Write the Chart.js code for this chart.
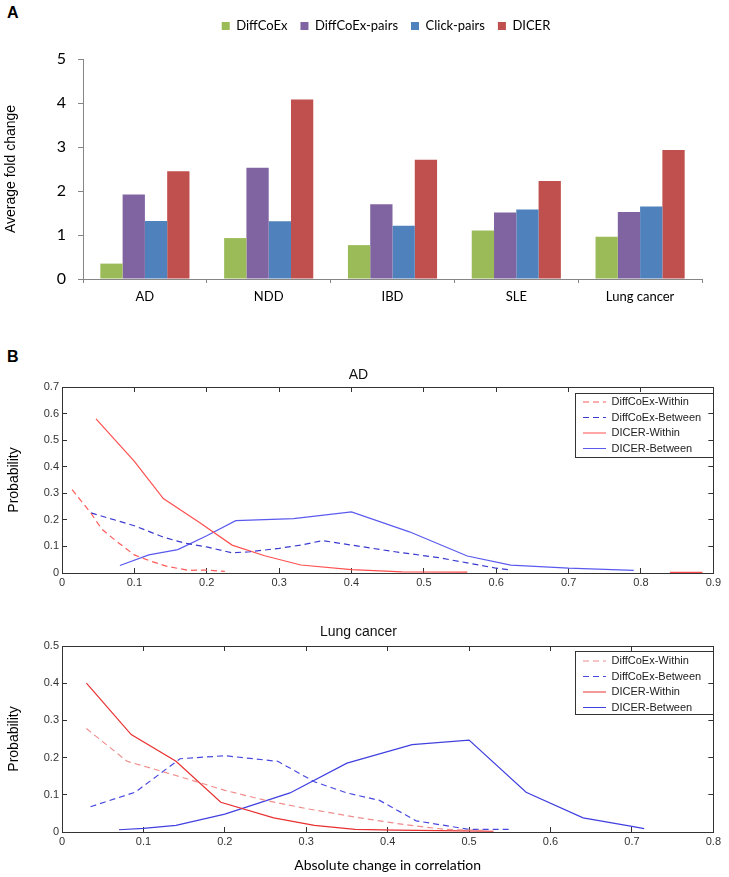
<!DOCTYPE html>
<html>
<head>
<meta charset="utf-8">
<script src="https://cdn.jsdelivr.net/npm/chart.js@4.4.1/dist/chart.umd.min.js"></script>
<style>
  html, body { margin: 0; padding: 0; background: #fff; }
  body { width: 729px; height: 877px; overflow: hidden; position: relative; }
  .panel { position: absolute; left: 0; }
  .lbl { position: absolute; font: bold 16px 'Liberation Sans', Arial, sans-serif; line-height: 1; color: #000; }
</style>
</head>
<body>
<div class="lbl" style="left:7px; top:5px;">A</div>
<div class="lbl" style="left:7px; top:349px;">B</div>
<div class="panel" style="top:0px;"><canvas id="cA" width="729" height="310"></canvas></div>
<div class="panel" style="top:340px;"><canvas id="cB1" width="729" height="260"></canvas></div>
<div class="panel" style="top:600px;"><canvas id="cB2" width="729" height="277"></canvas></div>
<script>
// ---------- Panel A data ----------
const categories = ['AD', 'NDD', 'IBD', 'SLE', 'Lung cancer'];
const barSeriesNames = ['DiffCoEx', 'DiffCoEx-pairs', 'Click-pairs', 'DICER'];
const diffcoexValues = [0.35, 0.93, 0.77, 1.10, 0.96];
const diffcoexPairsValues = [1.92, 2.53, 1.70, 1.51, 1.52];
const clickPairsValues = [1.32, 1.31, 1.21, 1.58, 1.65];
const dicerValues = [2.45, 4.08, 2.71, 2.23, 2.93];
const barColors = ['#9BBB59', '#8064A2', '#4F81BD', '#C0504D'];
const yTicksA = [0, 1, 2, 3, 4, 5];

// ---------- Panel B data (AD) ----------
const lineSeriesNames = ['DiffCoEx-Within', 'DiffCoEx-Between', 'DICER-Within', 'DICER-Between'];
const adDiffWithinX = [0.014, 0.04, 0.055, 0.075, 0.1, 0.12, 0.145, 0.175, 0.2, 0.225];
const adDiffWithinY = [0.314, 0.225, 0.165, 0.12, 0.068, 0.047, 0.025, 0.01, 0.011, 0.006];
const adDiffBetweenX = [0.04, 0.1, 0.14, 0.17, 0.2, 0.235, 0.26, 0.3, 0.33, 0.36, 0.4, 0.46, 0.52, 0.56, 0.6, 0.62];
const adDiffBetweenY = [0.226, 0.178, 0.135, 0.112, 0.098, 0.076, 0.08, 0.093, 0.105, 0.122, 0.105, 0.08, 0.058, 0.038, 0.018, 0.011];
const adDicerWithinX = [0.047, 0.1, 0.14, 0.19, 0.235, 0.28, 0.33, 0.4, 0.47, 0.56, 0.6, 0.84, 0.885];
const adDicerWithinY = [0.58, 0.42, 0.28, 0.19, 0.105, 0.065, 0.03, 0.013, 0.004, 0.003, null, 0.002, 0.002];
const adDicerBetweenX = [0.08, 0.12, 0.16, 0.2, 0.24, 0.32, 0.4, 0.48, 0.56, 0.62, 0.7, 0.79];
const adDicerBetweenY = [0.028, 0.068, 0.088, 0.14, 0.197, 0.205, 0.23, 0.155, 0.064, 0.03, 0.018, 0.01];

// ---------- Panel B data (Lung cancer) ----------
const lcDiffWithinX = [0.03, 0.08, 0.14, 0.2, 0.25, 0.3, 0.36, 0.42, 0.47, 0.52];
const lcDiffWithinY = [0.278, 0.19, 0.152, 0.112, 0.085, 0.063, 0.04, 0.02, 0.007, 0.004];
const lcDiffBetweenX = [0.035, 0.09, 0.145, 0.2, 0.265, 0.31, 0.35, 0.39, 0.435, 0.5, 0.55];
const lcDiffBetweenY = [0.068, 0.107, 0.197, 0.205, 0.19, 0.135, 0.105, 0.085, 0.03, 0.007, 0.007];
const lcDicerWithinX = [0.03, 0.085, 0.14, 0.195, 0.26, 0.31, 0.36, 0.41, 0.49, 0.53];
const lcDicerWithinY = [0.40, 0.262, 0.19, 0.08, 0.038, 0.018, 0.007, 0.005, 0.003, 0.002];
const lcDicerBetweenX = [0.07, 0.1, 0.14, 0.2, 0.28, 0.35, 0.43, 0.5, 0.57, 0.64, 0.7, 0.715];
const lcDicerBetweenY = [0.006, 0.01, 0.018, 0.048, 0.105, 0.185, 0.235, 0.247, 0.107, 0.038, 0.015, 0.009];

function pts(xs, ys) { return xs.map((x, i) => ({ x: x, y: ys[i] })); }

// Plugin: reposition legend and draw a framed box behind it
const legendPlacer = {
  id: 'legendPlacer',
  afterLayout(chart, args, o) {
    const lg = chart.legend;
    if (!lg || !o) return;
    const w = lg.width, h = lg.height;
    if (typeof o.dx === 'number') { lg.left += o.dx; lg.right += o.dx; }
    if (typeof o.left === 'number') { lg.left = o.left; lg.right = o.left + w; }
    if (typeof o.top === 'number') { lg.top = o.top; lg.bottom = o.top + h; }
  },
  beforeDraw(chart, args, o) {
    if (!o || !o.box) return;
    const ctx = chart.ctx, b = o.box;
    ctx.save();
    ctx.fillStyle = '#fff';
    ctx.fillRect(b.x, b.y, b.w, b.h);
    ctx.strokeStyle = '#333';
    ctx.lineWidth = 1;
    ctx.strokeRect(b.x + 0.5, b.y + 0.5, b.w, b.h);
    ctx.restore();
  }
};

// ---------- Chart A ----------
const barData = [diffcoexValues, diffcoexPairsValues, clickPairsValues, dicerValues];
new Chart(document.getElementById('cA'), {
  type: 'bar',
  data: {
    labels: categories,
    datasets: barSeriesNames.map((n, i) => ({
      label: n, data: barData[i], backgroundColor: barColors[i], borderWidth: 0,
      categoryPercentage: 0.72, barPercentage: 1.0
    }))
  },
  plugins: [legendPlacer],
  options: {
    responsive: false, animation: false, devicePixelRatio: 1,
    layout: { padding: { top: 23, left: 0, right: 27, bottom: 0 } },
    plugins: {
      tooltip: { enabled: false },
      legend: {
        position: 'top',
        labels: { boxWidth: 8, boxHeight: 8, padding: 13, color: '#000',
          font: { family: 'Lato', size: 13 } }
      },
      legendPlacer: { dx: 35, top: 6.5 }
    },
    scales: {
      x: {
        grid: { offset: true, drawOnChartArea: false, tickLength: 4, color: '#868686' },
        border: { color: '#868686' },
        ticks: { color: '#000', padding: 6, font: { family: 'Lato', size: 13 } },
        afterFit: s => { s.height = 31; }
      },
      y: {
        min: 0, max: 5,
        afterBuildTicks: s => { s.ticks = yTicksA.map(v => ({ value: v })); },
        ticks: { color: '#000', padding: 12, font: { family: 'Lato', size: 16 } },
        grid: { drawOnChartArea: false, tickLength: 5, color: '#868686' },
        border: { color: '#868686' },
        title: { display: true, text: 'Average fold change', color: '#000',
          font: { family: 'Liberation Sans', size: 14 }, padding: { top: 2.6, bottom: 0 } },
        afterFit: s => { s.width = 83; }
      }
    }
  }
});

// ---------- Chart B helper ----------
function lineChart(canvasId, title, xMax, yMax, series, colors, dashed, opts) {
  const datasets = series.map((d, i) => ({
    label: lineSeriesNames[i], data: d,
    borderColor: colors[i], backgroundColor: colors[i],
    borderWidth: 1.2, borderDash: dashed[i] ? [6, 4] : [],
    pointRadius: 0, tension: 0, fill: false, spanGaps: false
  }));
  const axisColor = '#333';
  const tickFont = { family: 'Liberation Sans', size: 11 };
  const gridCommon = { drawOnChartArea: false, tickLength: -5, color: axisColor };
  return new Chart(document.getElementById(canvasId), {
    type: 'line',
    data: { datasets: datasets },
    plugins: [legendPlacer],
    options: {
      responsive: false, animation: false, devicePixelRatio: 1,
      layout: { padding: { top: 0, left: 0, right: 12, bottom: 0 } },
      plugins: {
        tooltip: { enabled: false },
        title: { display: true, text: title, color: '#111',
          font: { family: 'Liberation Sans', size: 14, weight: 'normal' },
          padding: { top: opts.titleTop, bottom: opts.titleBottom } },
        legend: {
          position: 'chartArea', align: 'start',
          labels: {
            usePointStyle: true, pointStyle: 'line', pointStyleWidth: 23,
            boxHeight: 11, padding: 4.5, color: '#222',
            font: { family: 'Liberation Sans', size: 11 },
            generateLabels: ch => ch.data.datasets.map((ds, i) => ({
              text: ds.label, datasetIndex: i, hidden: false,
              strokeStyle: ds.borderColor, fillStyle: ds.borderColor,
              lineWidth: ds.borderWidth, lineDash: ds.borderDash,
              pointStyle: 'line', fontColor: '#222'
            }))
          }
        },
        legendPlacer: { left: opts.legendLeft, top: opts.legendTop, box: opts.box }
      },
      scales: {
        x: {
          type: 'linear', position: 'bottom', min: 0, max: xMax,
          ticks: { stepSize: 0.1, color: '#333', padding: 8, font: tickFont },
          grid: gridCommon, border: { color: axisColor },
          title: opts.xTitle ? { display: true, text: opts.xTitle, color: '#000',
            font: { family: 'Lato', size: 14 }, padding: { top: 0, bottom: opts.xTitlePad } } : { display: false },
          afterFit: s => { s.height = opts.xHeight; }
        },
        x2: {
          type: 'linear', position: 'top', min: 0, max: xMax,
          ticks: { stepSize: 0.1, display: false },
          grid: gridCommon, border: { color: axisColor },
          afterFit: s => { s.height = 0; }
        },
        y: {
          type: 'linear', position: 'left', min: 0, max: yMax,
          ticks: { stepSize: 0.1, color: '#333', padding: 8, font: tickFont },
          grid: gridCommon, border: { color: axisColor },
          title: { display: true, text: 'Probability', color: '#000',
            font: { family: 'Liberation Sans', size: 14 }, padding: { top: 5.6, bottom: 0 } },
          afterFit: s => { s.width = 62; }
        },
        y2: {
          type: 'linear', position: 'right', min: 0, max: yMax,
          ticks: { stepSize: 0.1, display: false },
          grid: gridCommon, border: { color: axisColor },
          afterFit: s => { s.width = 0; }
        }
      }
    }
  });
}

lineChart('cB1', 'AD', 0.9, 0.7,
  [pts(adDiffWithinX, adDiffWithinY), pts(adDiffBetweenX, adDiffBetweenY),
   pts(adDicerWithinX, adDicerWithinY), pts(adDicerBetweenX, adDicerBetweenY)],
  ['#ff5a5a', '#3a3ad0', '#ff5050', '#5a5aee'], [true, true, false, false],
  { titleTop: 26.6, titleBottom: 3.6, xHeight: 27, legendLeft: 578.5, legendTop: 52,
    box: { x: 575, y: 53, w: 138, h: 64 } });

lineChart('cB2', 'Lung cancer', 0.8, 0.5,
  [pts(lcDiffWithinX, lcDiffWithinY), pts(lcDiffBetweenX, lcDiffBetweenY),
   pts(lcDicerWithinX, lcDicerWithinY), pts(lcDicerBetweenX, lcDicerBetweenY)],
  ['#f08c8c', '#4848e0', '#e83030', '#4040e0'], [true, true, false, false],
  { titleTop: 23.6, titleBottom: 5.6, xHeight: 45, xTitle: 'Absolute change in correlation', xTitlePad: 3.6,
    legendLeft: 578.5, legendTop: 51, box: { x: 575, y: 51, w: 138, h: 63 } });
</script>
</body>
</html>
